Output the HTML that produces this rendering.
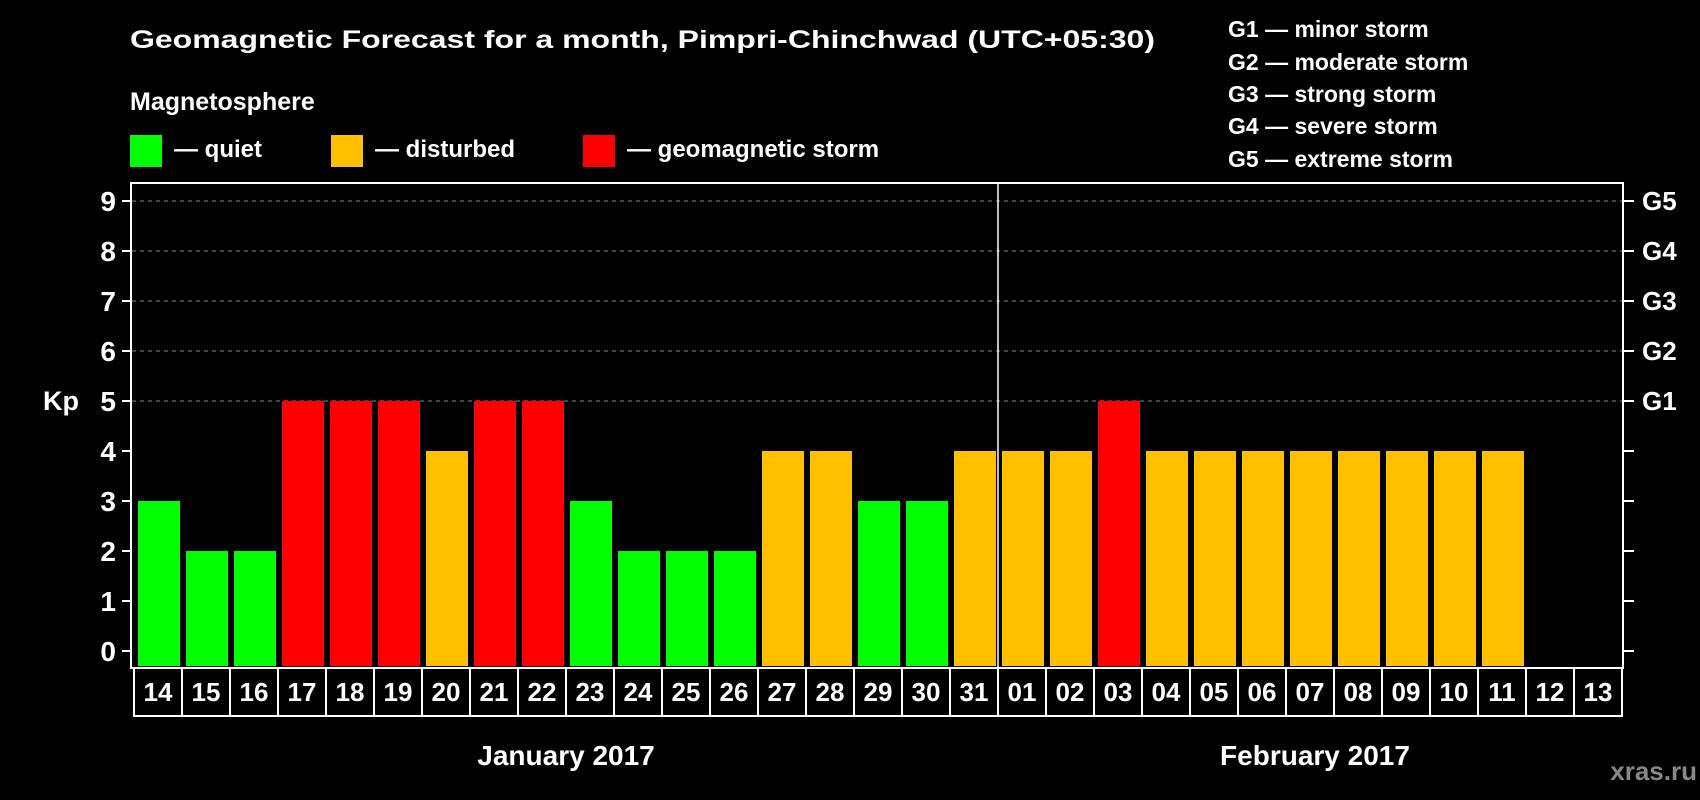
<!DOCTYPE html>
<html><head><meta charset="utf-8"><style>
html,body{margin:0;padding:0;background:#000;}
svg{display:block;font-family:"Liberation Sans",sans-serif;font-weight:bold;}
</style></head><body>
<svg id="chart" width="1700" height="800" viewBox="0 0 1700 800">
<rect x="0" y="0" width="1700" height="800" fill="#000"/>
<text x="130" y="48" font-size="25" fill="#fff" textLength="1025" lengthAdjust="spacingAndGlyphs">Geomagnetic Forecast for a month, Pimpri-Chinchwad (UTC+05:30)</text>
<text x="130" y="110" font-size="25" fill="#fff">Magnetosphere</text>
<g>
<rect x="130" y="135" width="32" height="32" fill="#00ff00"/>
<text x="174" y="157" font-size="24" fill="#fff">— quiet</text></g>
<g>
<rect x="331" y="135" width="32" height="32" fill="#ffc000"/>
<text x="375" y="157" font-size="24" fill="#fff">— disturbed</text></g>
<g>
<rect x="583" y="135" width="32" height="32" fill="#ff0000"/>
<text x="627" y="157" font-size="24" fill="#fff">— geomagnetic storm</text></g>
<g font-size="23" fill="#fff">
<text x="1228" y="37">G1 — minor storm</text>
<text x="1228" y="70">G2 — moderate storm</text>
<text x="1228" y="102">G3 — strong storm</text>
<text x="1228" y="134">G4 — severe storm</text>
<text x="1228" y="167">G5 — extreme storm</text>
</g>
<text x="43" y="410" font-size="27" fill="#fff">Kp</text>
<g id="grid"></g>
<g id="bars"></g>
<g id="axes"></g>
<text x="566" y="765" font-size="28" fill="#fff" text-anchor="middle">January 2017</text>
<text x="1315" y="765" font-size="28" fill="#fff" text-anchor="middle">February 2017</text>
<text x="1697" y="780" font-size="26" fill="#888" text-anchor="end">xras.ru</text>
</svg>
<script>
const days = ["14","15","16","17","18","19","20","21","22","23","24","25","26","27","28","29","30","31","01","02","03","04","05","06","07","08","09","10","11","12","13"];
const kp = [3,2,2,5,5,5,4,5,5,3,2,2,2,4,4,3,3,4,4,4,5,4,4,4,4,4,4,4,4,null,null];
const yTicks = [0,1,2,3,4,5,6,7,8,9];
const gLabels = ["G1","G2","G3","G4","G5"];
const gLevels = [5,6,7,8,9];
const monthBreakIndex = 18;

const NS="http://www.w3.org/2000/svg";
const plotL=132, plotR=1623, plotT=183, plotB=668, cellL=134, cellW=48, cellB=716;
const y = v => 651 - v*50;
const xCell = i => cellL + i*cellW;
function mk(tag, attrs, parent){const e=document.createElementNS(NS,tag);for(const k in attrs)e.setAttribute(k,attrs[k]);parent.appendChild(e);return e;}
const grid=document.getElementById('grid'), bars=document.getElementById('bars'), axes=document.getElementById('axes');

gLevels.forEach((g,i)=>{
  const l=mk('line',{x1:plotL,x2:plotR,y1:y(g),y2:y(g),stroke:'#888','stroke-width':1,'stroke-dasharray':'4,4'},grid);
  
  
  const t=mk('text',{x:1642,y:y(g)+9,'font-size':26,fill:'#fff'},axes);
  t.textContent=gLabels[i];
  
  
});
kp.forEach((v,i)=>{
  if(v===null) return;
  const col = v>=5?'#ff0000':(v>=4?'#ffc000':'#00ff00');
  const r=mk('rect',{x:xCell(i)+4,y:y(v),width:42,height:plotB-2-y(v),fill:col},bars);
  
  
});
yTicks.forEach(v=>{
  const tl=mk('line',{x1:122,x2:plotL,y1:y(v),y2:y(v),stroke:'#fff','stroke-width':2},axes);
  
  
  const tr=mk('line',{x1:plotR,x2:1634,y1:y(v),y2:y(v),stroke:'#fff','stroke-width':2},axes);
  
  
  const t=mk('text',{x:116,y:y(v)+10,'font-size':28,fill:'#fff','text-anchor':'end'},axes);
  t.textContent=v;
  
  
});
const frame=mk('rect',{x:plotL-1,y:plotT,width:plotR-plotL+1,height:plotB-plotT,fill:'none',stroke:'#fff','stroke-width':2},axes);


const div=mk('line',{x1:xCell(monthBreakIndex),x2:xCell(monthBreakIndex),y1:plotT,y2:plotB,stroke:'#fff','stroke-width':1.5},axes);


days.forEach((d,i)=>{
  const c=mk('rect',{x:xCell(i),y:plotB,width:cellW,height:cellB-plotB,fill:'none',stroke:'#fff','stroke-width':2},axes);
  
  
  const t=mk('text',{x:xCell(i)+cellW/2,y:701,'font-size':26,fill:'#fff','text-anchor':'middle'},axes);
  t.textContent=d;
  
  
});
</script>
</body></html>
